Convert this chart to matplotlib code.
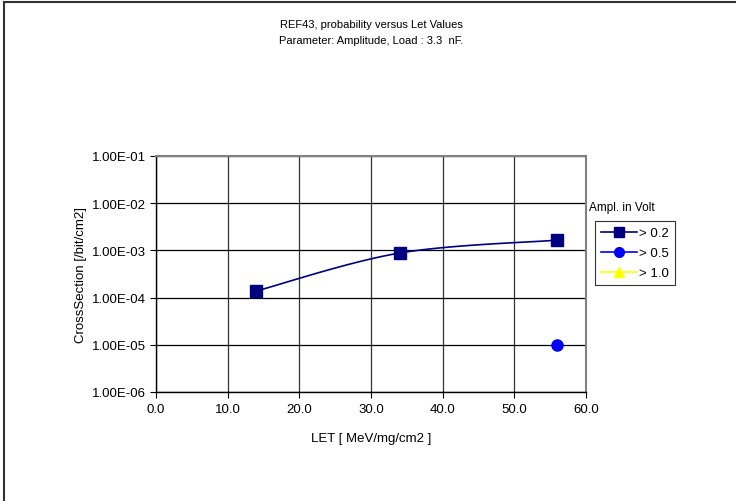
import numpy as np
import matplotlib
matplotlib.use("Agg")
import matplotlib.pyplot as plt
from matplotlib.lines import Line2D
from matplotlib.ticker import FixedLocator, NullLocator

plt.rcParams['font.family'] = ['Liberation Sans', 'DejaVu Sans']

# LET values [MeV/mg/cm2] and cross sections per amplitude threshold
let_02 = [14.0, 34.0, 56.0]
cs_02 = [1.38e-4, 8.8e-4, 1.65e-3]
let_05 = [56.0]
cs_05 = [1.0e-5]
let_10 = []
cs_10 = []

series_labels = ["> 0.2", "> 0.5", "> 1.0"]
x_ticks = [0, 10, 20, 30, 40, 50, 60]
y_ticks = [1e-6, 1e-5, 1e-4, 1e-3, 1e-2, 1e-1]

AXIS_FS = 9.5


def smooth_curve(xs, ys, n=40):
    """Catmull-Rom style smoothing in (x, log10 y) space."""
    px = np.asarray(xs, float)
    py = np.log10(np.asarray(ys, float))
    pts = np.column_stack([px, py])
    ext = np.vstack([pts[0], pts, pts[-1]])
    out = []
    for i in range(1, len(ext) - 2):
        p0, p1, p2, p3 = ext[i - 1], ext[i], ext[i + 1], ext[i + 2]
        c1 = p1 + (p2 - p0) / 6.0
        c2 = p2 - (p3 - p1) / 6.0
        t = np.linspace(0, 1, n)[:, None]
        seg = ((1 - t) ** 3) * p1 + 3 * ((1 - t) ** 2) * t * c1 + 3 * (1 - t) * t ** 2 * c2 + t ** 3 * p2
        out.append(seg if i == 1 else seg[1:])
    curve = np.vstack(out)
    return curve[:, 0], 10 ** curve[:, 1]


fig = plt.figure(figsize=(7.36, 5.02), dpi=100)
ax = fig.add_axes([156 / 736, 1 - 393 / 502, 430 / 736, 236 / 502])

ax.set_yscale('log')
ax.set_xlim(0, 60)
ax.set_ylim(1e-6, 1e-1)

ax.xaxis.set_major_locator(FixedLocator(x_ticks))
ax.yaxis.set_major_locator(FixedLocator(y_ticks))
ax.yaxis.set_minor_locator(NullLocator())
ax.set_xticklabels([f"{v:.1f}" for v in x_ticks])
ax.set_yticklabels([f"{v:.2E}" for v in y_ticks])

ax.grid(True, which='major', axis='y', color='black', linewidth=0.9)
ax.grid(True, which='major', axis='x', color='#333333', linewidth=0.9)
ax.set_axisbelow(True)

for side in ('top', 'right'):
    ax.spines[side].set_color('#808080')
    ax.spines[side].set_linewidth(1.5)
for side in ('left', 'bottom'):
    ax.spines[side].set_color('black')
    ax.spines[side].set_linewidth(1.0)

ax.tick_params(axis='both', direction='out', length=4, width=0.8,
               labelsize=AXIS_FS, pad=3, colors='black')
ax.tick_params(axis='x', pad=4)

# smoothed line with markers
sx, sy = smooth_curve(let_02, cs_02)
ax.plot(sx, sy, color='#000080', linewidth=1.2, zorder=3)
ax.plot(let_02, cs_02, linestyle='none', marker='s', markersize=8.5,
        color='#000080', zorder=4)
ax.plot(let_05, cs_05, linestyle='none', marker='o', markersize=8,
        color='#0000FF', zorder=4)
ax.plot(let_10, cs_10, linestyle='none', marker='^', markersize=8,
        color='#FFFF00', zorder=4)

ax.set_xlabel("LET [ MeV/mg/cm2 ]", fontsize=AXIS_FS, labelpad=12)
ax.set_ylabel("CrossSection [/bit/cm2]", fontsize=AXIS_FS, labelpad=4)

fig.text(371 / 736, 1 - 25 / 502, "REF43, probability versus Let Values",
         ha='center', va='center', fontsize=8)
fig.text(371 / 736, 1 - 41 / 502, "Parameter: Amplitude, Load : 3.3  nF.",
         ha='center', va='center', fontsize=8)

handles = [
    Line2D([], [], color='#000080', marker='s', markersize=7, linewidth=1.2),
    Line2D([], [], color='#0000FF', marker='o', markersize=7, linewidth=1.2),
    Line2D([], [], color='#FFFF00', marker='^', markersize=7, linewidth=1.2),
]
leg = fig.legend(handles, series_labels, loc='upper left',
                 bbox_to_anchor=(595 / 736, 1 - 222 / 502),
                 fontsize=AXIS_FS, frameon=True, fancybox=False, borderaxespad=0,
                 handlelength=2.7, handletextpad=0.2, labelspacing=0.6,
                 borderpad=0.45)
leg.get_frame().set_edgecolor('black')
leg.get_frame().set_linewidth(0.8)
fig.text(589 / 736, 1 - 208 / 502, "Ampl. in Volt", ha='left', va='center',
         fontsize=8.5)

# outer chart border (left and top edges)
fig.add_artist(Line2D([3.5 / 736, 3.5 / 736], [0, 1 - 2.5 / 502],
                      transform=fig.transFigure, color='#333333', linewidth=1.5))
fig.add_artist(Line2D([3.5 / 736, 1], [1 - 2.5 / 502, 1 - 2.5 / 502],
                      transform=fig.transFigure, color='#333333', linewidth=1.5))

fig.savefig("out.png", dpi=100)
